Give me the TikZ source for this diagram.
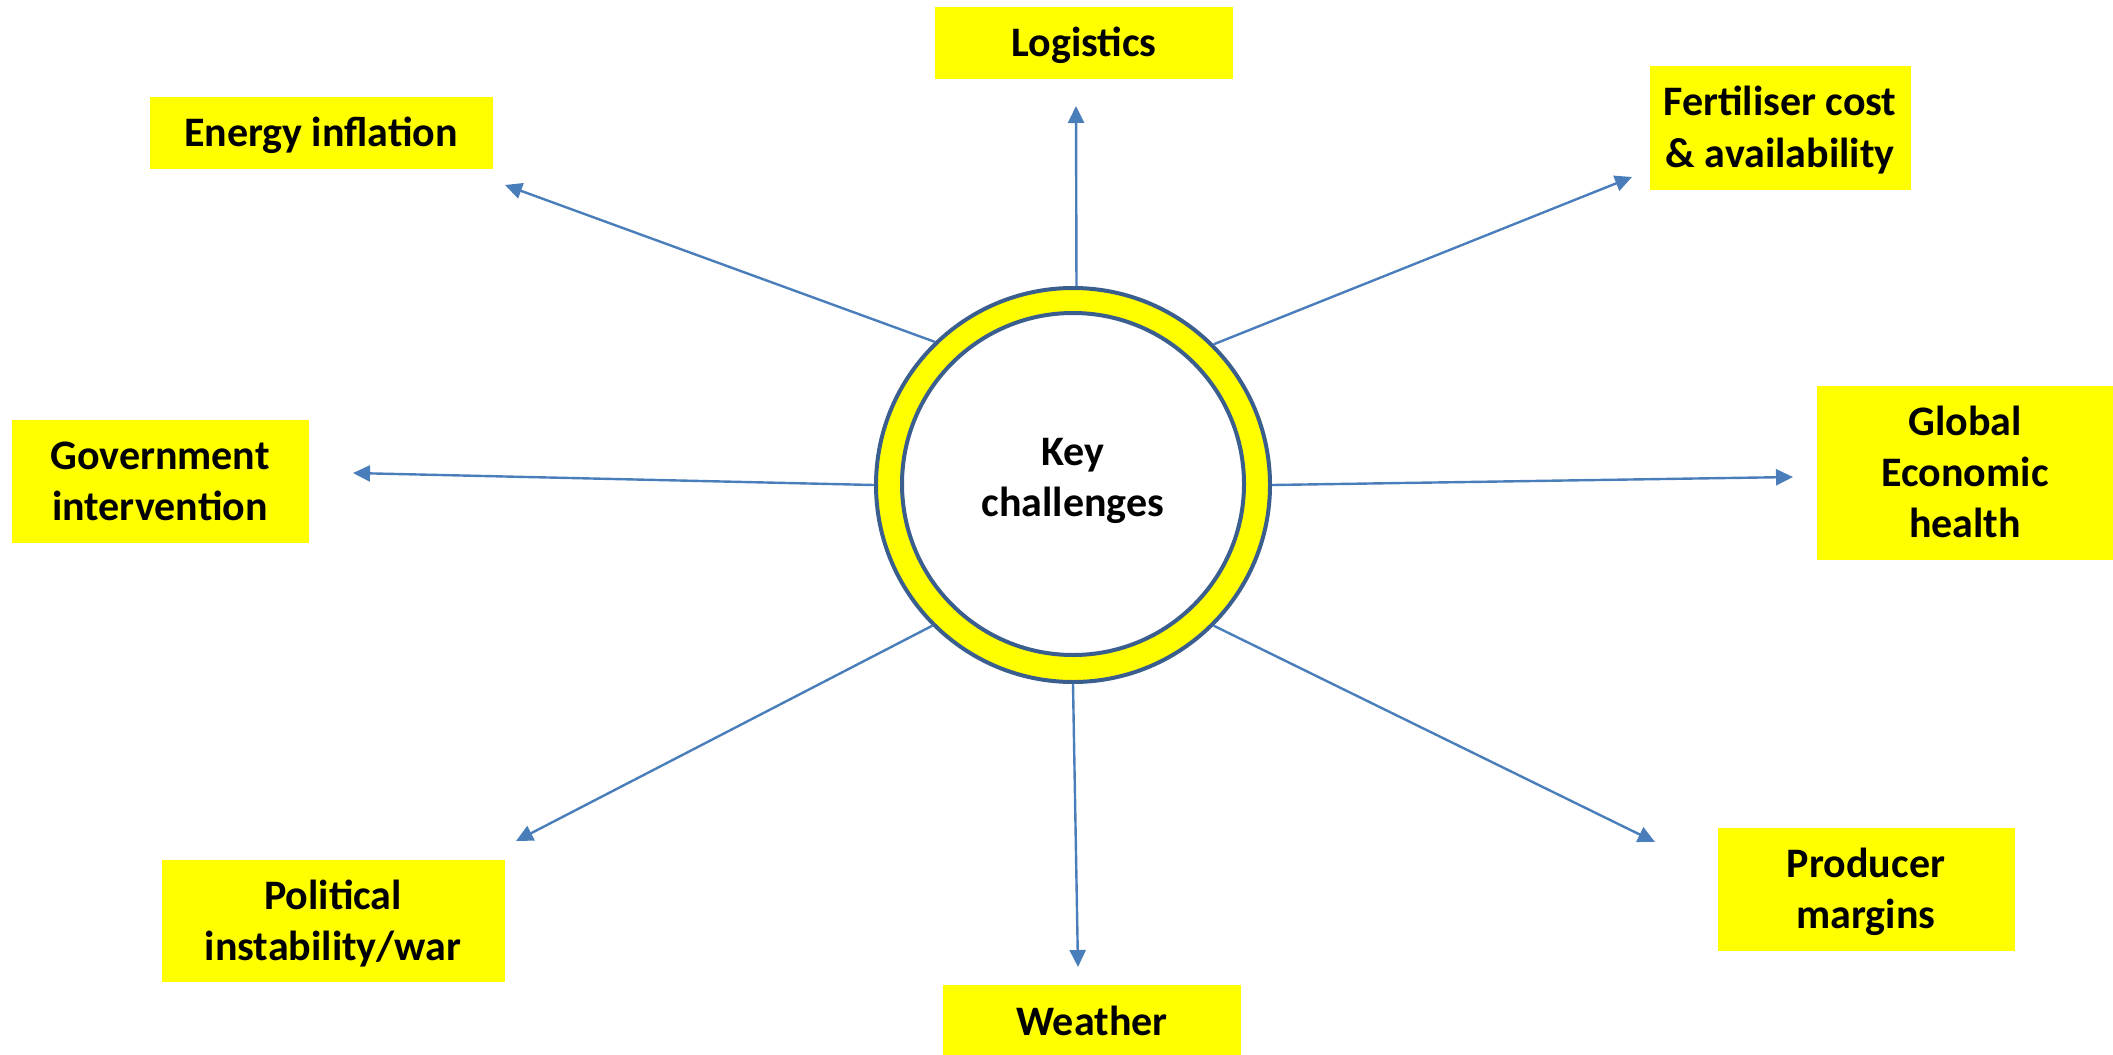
\documentclass[tikz,border=0pt]{standalone}
\usepackage{fontspec}
\setmainfont{Carlito}
\usetikzlibrary{arrows.meta}
\definecolor{boxYellow}{HTML}{FFFF00}
\definecolor{lineBlue}{HTML}{4A7EBB}
\definecolor{ringBlue}{HTML}{3A5F8F}

\begin{document}
\begin{tikzpicture}[x=0.5pt, y=-0.5pt,
    challenge/.style={fill=boxYellow, inner sep=0pt, align=center,
        font=\fontsize{21}{25.5}\selectfont\bfseries, text height=#1, text depth=0pt},
    challenge/.default=13.5pt,
    link/.style={lineBlue, line width=1.2pt, -{Triangle[length=8.5pt, width=8pt]}}]
    \useasboundingbox (0,0) rectangle (2113,1054);
    \node[circle, draw=ringBlue, line width=2pt, fill=boxYellow, minimum size=197pt] (ring) at (1073,485) {};
    \node[circle, draw=ringBlue, line width=2pt, fill=white, minimum size=171pt, inner sep=0pt, align=center,
        font=\fontsize{21}{25.5}\selectfont\bfseries, text height=39pt, text depth=6.5pt] (keyc) at (1073,484) {Key\\challenges};
    \node[challenge, minimum width=149pt, minimum height=36pt] (logistics) at (1084,43) {Logistics};
    \node[challenge, minimum width=171.5pt, minimum height=36pt] (energy) at (321,133) {Energy inflation};
    \node[challenge=39pt, minimum width=130.5pt, minimum height=62pt] (fertiliser) at (1780,128) {Fertiliser cost\\\& availability};
    \node[challenge=39pt, minimum width=148.5pt, minimum height=61.5pt] (government) at (160,481) {Government\\intervention};
    \node[challenge=64.5pt, minimum width=148pt, minimum height=87pt] (global) at (1965,473) {Global\\Economic\\health};
    \node[challenge=39pt, minimum width=171.5pt, minimum height=61pt] (political) at (333,921) {Political\\instability/war};
    \node[challenge=39pt, minimum width=148.5pt, minimum height=61.5pt] (producer) at (1866,889) {Producer\\margins};
    \node[challenge, minimum width=149pt, minimum height=37pt] (weather) at (1092,1022) {Weather};
    \coordinate (logtip) at (1076,106);
    \coordinate (energytip) at (505,185);
    \coordinate (fertilisertip) at (1632,177);
    \coordinate (govtip) at (353,473);
    \coordinate (globaltip) at (1793,477);
    \coordinate (poltip) at (516,841);
    \coordinate (prodtip) at (1655,842);
    \coordinate (weathertip) at (1078,967);
    \foreach \a/\t in {89/logtip, 134/energytip, 45/fertilisertip, 180/govtip,
                       0/globaltip, 225/poltip, 315/prodtip, 270/weathertip}
        \draw[link] (ring.\a) -- (\t);
\end{tikzpicture}
\end{document}
